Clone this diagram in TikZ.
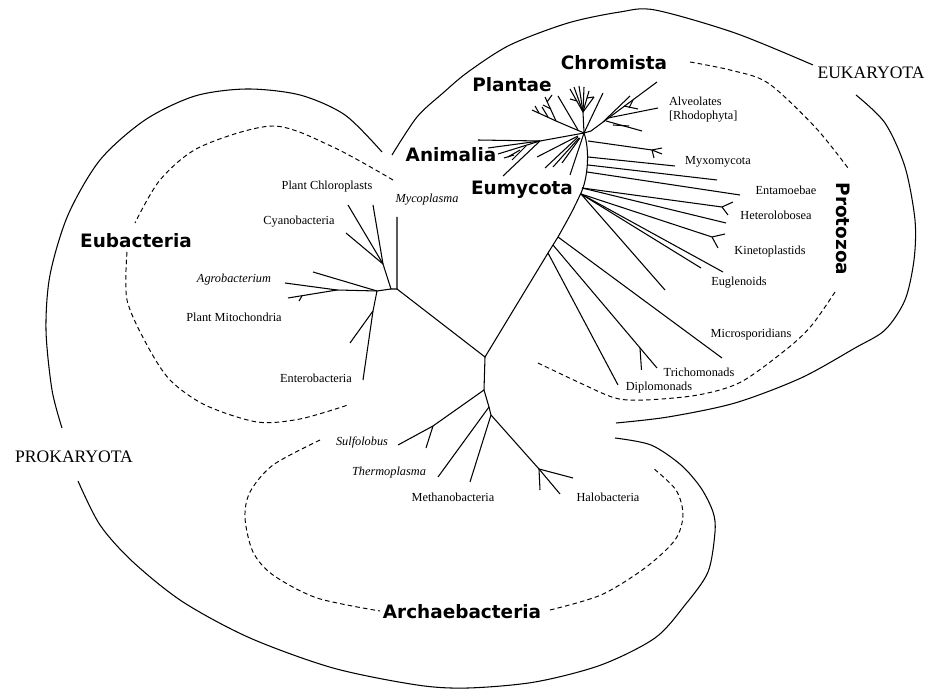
\documentclass[tikz,border=0pt]{standalone}
\usepackage{fontspec}
\setmainfont{Liberation Serif}
\newfontfamily\grpfont{DejaVu Sans}
\begin{document}
\begin{tikzpicture}[x=0.2mm,y=-0.2mm,
    br/.style={line width=0.6pt},
    bound/.style={line width=0.6pt},
    clade/.style={line width=0.55pt,dash pattern=on 2.6pt off 1.8pt},
    tx/.style={font=\fontsize{7}{8}\selectfont,inner sep=1pt},
    txi/.style={font=\fontsize{7}{8}\selectfont\itshape,inner sep=1pt},
    grp/.style={font=\grpfont\bfseries\fontsize{10.5}{12}\selectfont,inner sep=1pt},
    dom/.style={font=\fontsize{10}{12}\selectfont,inner sep=1pt}]
    \fill[white] (0,0) rectangle (936,690);
    \useasboundingbox (0,0) rectangle (936,690);

    \node[grp] (chromista) at (614,63) {Chromista};
    \node[grp] (plantae) at (512,85) {Plantae};
    \node[grp] (animalia) at (451,155) {Animalia};
    \node[grp] (eumycota) at (522,190) {Eumycota};
    \node[grp] (eubacteria) at (136,241) {Eubacteria};
    \node[grp,rotate=-90] (protozoa) at (843,229) {Protozoa};
    \node[grp] (archaebacteria) at (462,612) {Archaebacteria};
    \node[dom] (eukaryota) at (871,73) {EUKARYOTA};
    \node[dom] (prokaryota) at (74,457) {PROKARYOTA};

    \node[tx] (chloroplasts) at (327,187) {Plant Chloroplasts};
    \node[txi] (mycoplasma) at (427,200) {Mycoplasma};
    \node[tx] (cyanobacteria) at (299,222) {Cyanobacteria};
    \node[txi] (agrobacterium) at (234,280) {Agrobacterium};
    \node[tx] (mitochondria) at (234,317) {Plant Mitochondria};
    \node[tx] (enterobacteria) at (316,378) {Enterobacteria};
    \node[tx,anchor=west,align=left] (alveolates) at (667,110) {Alveolates\\{[Rhodophyta]}};
    \node[tx] (myxomycota) at (718,162) {Myxomycota};
    \node[tx] (entamoebae) at (786,190) {Entamoebae};
    \node[tx] (heterolobosea) at (776,215) {Heterolobosea};
    \node[tx] (kinetoplastids) at (770,252) {Kinetoplastids};
    \node[tx] (euglenoids) at (739,283) {Euglenoids};
    \node[tx] (microsporidians) at (751,335) {Microsporidians};
    \node[tx] (trichomonads) at (699,372) {Trichomonads};
    \node[tx] (diplomonads) at (659,388) {Diplomonads};
    \node[txi] (sulfolobus) at (362,442) {Sulfolobus};
    \node[txi] (thermoplasma) at (389,473) {Thermoplasma};
    \node[tx] (methanobacteria) at (453,497) {Methanobacteria};
    \node[tx] (halobacteria) at (608,497) {Halobacteria};

    \draw[bound] plot[smooth] coordinates {(382,152) (345,115) (300,95) (247,89) (195,96) (145,120) (100,160) (68,215) (50,275) (46,330) (52,390) (62,428)};
    \draw[bound] plot[smooth] coordinates {(78,481) (100,525) (133,562) (183,602) (250,638) (333,668) (417,685) (468,688) (535,682) (601,665) (655,638) (685,605) (708,572) (715,532) (713,512) (701,488) (681,465) (651,445) (615,438)};
    \draw[bound] plot[smooth] coordinates {(392,155) (417,117) (443,93) (468,72) (510,45) (568,23) (620,12) (655,10) (735,33) (813,65)};
    \draw[bound] plot[smooth] coordinates {(856,95) (885,123) (905,167) (915,220) (914,260) (905,300) (885,330) (855,348) (801,378) (735,403) (668,417) (616,423)};

    \draw[clade] plot[smooth] coordinates {(393,180) (333,147) (273,126) (200,147) (160,180) (135,223)};
    \draw[clade] plot[smooth] coordinates {(127,252) (127,300) (147,345) (170,380) (205,405) (257,422) (300,419) (348,405)};
    \draw[clade] plot[smooth] coordinates {(690,62) (730,70) (768,83) (815,127) (848,168)};
    \draw[clade] plot[smooth] coordinates {(835,292) (812,325) (788,348) (741,382) (698,395) (645,400) (615,398) (578,382) (538,363)};
    \draw[clade] plot[smooth] coordinates {(320,440) (273,465) (250,492) (245,518) (253,552) (273,575) (317,598) (380,611)};
    \draw[clade] plot[smooth] coordinates {(550,610) (601,595) (645,568) (675,540) (683,515) (676,490) (653,468)};

    \coordinate (root) at (485,357);
    \coordinate (arc) at (484,390);
    \coordinate (arcB) at (489,407);
    \coordinate (arcC) at (491,415);
    \coordinate (sulA) at (433,426);
    \coordinate (sul) at (398,445);
    \coordinate (sulB) at (426,448);
    \coordinate (thermo) at (438,477);
    \coordinate (metha) at (470,482);
    \coordinate (haloA) at (539,469);
    \coordinate (halo) at (560,494);
    \coordinate (haloB) at (573,478);
    \coordinate (haloC) at (540,490);
    \draw[br] (root) -- (arc) -- (arcB) -- (arcC);
    \draw[br] (arc) -- (sulA) -- (sul);
    \draw[br] (sulA) -- (sulB);
    \draw[br] (arcB) -- (thermo);
    \draw[br] (arcC) -- (metha);
    \draw[br] (arcC) -- (haloA) -- (halo);
    \draw[br] (haloA) -- (haloB);
    \draw[br] (haloA) -- (haloC);

    \coordinate (eu) at (397,289);
    \coordinate (myco) at (397,217);
    \coordinate (euA) at (391,289);
    \coordinate (cp) at (383,264);
    \coordinate (chlor) at (373,205);
    \coordinate (chlorB) at (348,205);
    \coordinate (cyano) at (346,233);
    \coordinate (ag) at (377,291);
    \coordinate (agA) at (337,290);
    \coordinate (agB) at (313,272);
    \coordinate (agro) at (285,283);
    \coordinate (mito) at (288,298);
    \coordinate (en) at (373,311);
    \coordinate (entero) at (363,380);
    \coordinate (enB) at (350,343);
    \draw[br] (root) -- (eu) -- (myco);
    \draw[br] (eu) -- (euA) -- (cp) -- (chlor);
    \draw[br] (cp) -- (chlorB);
    \draw[br] (cp) -- (cyano);
    \draw[br] (euA) -- (ag) -- (agA) -- (agro);
    \draw[br] (agA) -- (mito);
    \draw[br] (ag) -- (agB);
    \draw[br] (mito) ++(14,-2) -- ++(-3,5);
    \draw[br] (ag) -- (en) -- (entero);
    \draw[br] (en) -- (enB);

    \coordinate (dipA) at (548,253);
    \coordinate (triA) at (553,245);
    \coordinate (micA) at (558,237);
    \coordinate (st3) at (581,193);
    \coordinate (crown) at (584,133);
    \draw[br] (root) -- (dipA) -- (triA) -- (micA) .. controls (572,212) .. (st3) .. controls (588,178) and (590,150) .. (crown);

    \coordinate (plnode) at (556,121);
    \coordinate (plant) at (532,110);
    \coordinate (plantB) at (545,97);
    \coordinate (chnode) at (583,112);
    \coordinate (chtip) at (603,93);
    \coordinate (alnode) at (591,131);
    \coordinate (alv) at (657,82);
    \coordinate (annode) at (540,141);
    \coordinate (anim) at (478,140);
    \coordinate (animB) at (503,176);
    \coordinate (eumy) at (570,175);
    \draw[br] (crown) -- (plnode) -- (plant);
    \draw[br] (plnode) -- (plantB);
    \draw[br] (plnode) ++(-8,-4) -- ++(-6,-10);
    \draw[br] (plnode) ++(-5,-12) -- ++(-8,-4);
    \draw[br] (plnode) ++(-9,-19) -- ++(5,-7);
    \draw[br] (plnode) ++(-17,-8) -- ++(-4,-7);
    \draw[br] (crown) ++(-6,-3) -- ++(-20,-34);
    \draw[br] (crown) -- (chnode);
    \draw[br] (chnode) -- ++(-13,-23);
    \draw[br] (chnode) -- ++(-9,-25);
    \draw[br] (chnode) -- ++(-4,-26);
    \draw[br] (chnode) -- ++(1,-25);
    \draw[br] (chnode) -- ++(6,-21);
    \draw[br] (chnode) -- ++(11,-15);
    \draw[br] (chnode) ++(-6,-11) -- ++(-7,-2);
    \draw[br] (chnode) ++(4,-14) -- ++(7,-1);
    \draw[br] (crown) -- (chtip);
    \draw[br] (crown) -- (alnode) -- (alv);
    \draw[br] (alnode) ++(12,-9) -- ++(27,-26);
    \draw[br] (alnode) ++(17,-13) -- ++(50,-10);
    \draw[br] (alnode) ++(15,-10) -- ++(36,10);
    \draw[br] (alnode) ++(22,-6) -- ++(16,1);
    \draw[br] (alnode) ++(33,-25) -- ++(14,3);
    \draw[br] (alnode) ++(42,-31) -- ++(-4,8);
    \draw[br] (crown) -- (annode) -- (anim);
    \draw[br] (annode) -- ++(-52,7);
    \draw[br] (annode) -- ++(-42,13);
    \draw[br] (annode) -- (animB);
    \draw[br] (annode) ++(-14,5) -- ++(-14,14);
    \draw[br] (annode) ++(-20,9) -- ++(-12,7);
    \draw[br] (annode) ++(-26,14) -- ++(-10,3);
    \draw[br] (crown) -- (eumy);
    \draw[br] (crown) ++(-6,3) -- ++(-41,21);
    \draw[br] (crown) ++(-6,4) -- ++(-33,31);
    \draw[br] (crown) ++(-5,5) -- ++(-26,29);
    \draw[br] (crown) ++(-4,5) -- ++(-18,25);

    \coordinate (pzA) at (588,141);
    \coordinate (pzB) at (588,157);
    \coordinate (pzC) at (588,165);
    \coordinate (pzD) at (587,172);
    \coordinate (pzE) at (582,188);
    \coordinate (pzF) at (581,194);
    \coordinate (myxA) at (652,150);
    \coordinate (myxo) at (675,166);
    \coordinate (lng) at (717,180);
    \coordinate (entam) at (740,195);
    \coordinate (heter) at (722,207);
    \coordinate (heterB) at (726,223);
    \coordinate (kinet) at (712,237);
    \coordinate (eugl) at (723,272);
    \coordinate (euglB) at (701,268);
    \coordinate (euglC) at (665,290);
    \coordinate (micro) at (722,358);
    \coordinate (trich) at (657,368);
    \coordinate (trichA) at (640,348);
    \coordinate (diplo) at (618,385);
    \draw[br] (pzA) -- (myxA);
    \draw[br] (myxA) -- ++(10,-2);
    \draw[br] (myxA) -- ++(10,4);
    \draw[br] (myxA) -- ++(2,8);
    \draw[br] (pzB) -- (myxo);
    \draw[br] (pzC) -- (lng);
    \draw[br] (pzD) -- (entam);
    \draw[br] (pzE) -- (heter);
    \draw[br] (heter) -- ++(11,-5);
    \draw[br] (heter) -- ++(6,8);
    \draw[br] (pzE) -- (heterB);
    \draw[br] (pzF) -- (kinet);
    \draw[br] (kinet) -- ++(13,-3);
    \draw[br] (kinet) -- ++(6,11);
    \draw[br] (pzF) -- (eugl);
    \draw[br] (pzF) -- (euglB);
    \draw[br] (pzF) -- (euglC);
    \draw[br] (micA) -- (micro);
    \draw[br] (triA) -- (trich);
    \draw[br] (trichA) -- ++(1.5,22);
    \draw[br] (dipA) -- (diplo);
\end{tikzpicture}
\end{document}
